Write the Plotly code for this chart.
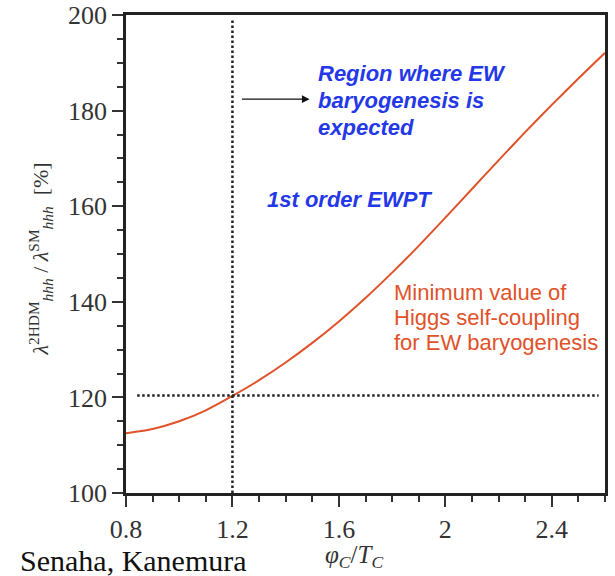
import plotly.graph_objects as go

# Critical-order-parameter ratio phi_C / T_C
phi_over_t = [0.8, 0.9, 1.0, 1.1, 1.2, 1.3, 1.4, 1.5, 1.6, 1.7, 1.8, 1.9,
              2.0, 2.1, 2.2, 2.3, 2.4, 2.5, 2.6]
# Minimum hhh coupling in the 2HDM relative to the SM [%]
lambda_ratio = [112.5, 113.4, 115.0, 117.3, 120.3, 123.6, 127.3, 131.4, 135.9,
                140.8, 146.1, 151.7, 157.6, 163.6, 169.6, 175.5, 181.2, 186.7, 192.1]

# Thresholds for a strongly first-order phase transition
phi_threshold = 1.2
lambda_threshold = 120.4

x_ticks = [0.8, 1.2, 1.6, 2.0, 2.4]
x_tick_text = ["0.8", "1.2", "1.6", "2", "2.4"]
y_ticks = [100, 120, 140, 160, 180, 200]

blue_lines = ["Region where EW", "baryogenesis is", "expected"]
orange_lines = ["Minimum value of", "Higgs self-coupling", "for EW baryogenesis"]

SERIF = "Liberation Serif"
SANS = "Liberation Sans"
BLUE = "#2438e8"
ORANGE = "#e0522a"
DOT = "#222222"

fig = go.Figure()

fig.add_trace(go.Scatter(
    x=phi_over_t, y=lambda_ratio, mode="lines",
    line=dict(color=ORANGE, width=2, shape="spline", smoothing=0.6),
    hoverinfo="skip", showlegend=False,
))

# dotted guide lines at the thresholds
fig.add_trace(go.Scatter(
    x=[phi_threshold, phi_threshold], y=[100, 199.2], mode="lines",
    line=dict(color=DOT, width=2.5, dash="2.5px,2.5px"),
    hoverinfo="skip", showlegend=False,
))
fig.add_trace(go.Scatter(
    x=[0.842, 2.576], y=[lambda_threshold, lambda_threshold], mode="lines",
    line=dict(color=DOT, width=2.5, dash="2.5px,2.5px"),
    hoverinfo="skip", showlegend=False,
))

annotations = []

# arrow pointing into the allowed region
annotations.append(dict(
    x=1.49, y=182.4, ax=1.23, ay=182.4, xref="x", yref="y", axref="x", ayref="y",
    showarrow=True, arrowhead=2, arrowsize=1.1, arrowwidth=1.4, arrowcolor="#111111",
    text="",
))

for text, yv in zip(blue_lines, [187.7, 182.1, 176.5]):
    annotations.append(dict(
        x=1.515, y=yv, xref="x", yref="y", xanchor="left", yanchor="middle",
        text="<b><i>%s</i></b>" % text, showarrow=False,
        font=dict(family=SANS, size=22, color=BLUE),
    ))

annotations.append(dict(
    x=1.322, y=161.5, xref="x", yref="y", xanchor="left", yanchor="middle",
    text="<b><i>1st order EWPT</i></b>", showarrow=False,
    font=dict(family=SANS, size=22, color=BLUE),
))

for text, yv in zip(orange_lines, [141.9, 136.7, 131.4]):
    annotations.append(dict(
        x=1.80, y=yv, xref="x", yref="y", xanchor="left", yanchor="middle",
        text=text, showarrow=False,
        font=dict(family=SANS, size=22, color=ORANGE),
    ))

# axis titles
annotations.append(dict(
    x=-0.178, y=0.49, xref="paper", yref="paper", xanchor="center", yanchor="middle",
    textangle=-90, showarrow=False,
    text="<i>λ</i><sup>2HDM</sup><sub><i>hhh</i></sub> / <i>λ</i><sup>SM</sup><sub><i>hhh</i></sub>  [%]",
    font=dict(family=SERIF, size=22, color="#333333"),
))
annotations.append(dict(
    x=0.475, y=-0.132, xref="paper", yref="paper", xanchor="center", yanchor="middle",
    showarrow=False,
    text="<i>φ</i><sub><i>C</i></sub>/<i>T</i><sub><i>C</i></sub>",
    font=dict(family=SERIF, size=25, color="#333333"),
))
annotations.append(dict(
    x=-0.225, y=-0.102, xref="paper", yref="paper", xanchor="left", yanchor="top",
    showarrow=False, text="Senaha, Kanemura",
    font=dict(family=SERIF, size=30, color="#111111"),
))

axis_common = dict(
    showgrid=False, zeroline=False, showline=True, linecolor="#222222",
    linewidth=2.5, mirror=True, ticks="outside", ticklen=11, tickwidth=1.5,
    tickcolor="#333333", tickfont=dict(family=SERIF, size=26, color="#333333"),
    automargin=False,
)

fig.update_layout(
    width=615, height=576,
    margin=dict(l=126, r=10, t=15, b=83),
    paper_bgcolor="white", plot_bgcolor="white",
    xaxis=dict(range=[0.8, 2.6], tickvals=x_ticks, ticktext=x_tick_text,
               minor=dict(dtick=0.1, tick0=0.8, ticks="outside", ticklen=6,
                          tickwidth=1.5, tickcolor="#333333"),
               **axis_common),
    yaxis=dict(range=[100, 200], tickvals=y_ticks,
               minor=dict(dtick=5, tick0=100, ticks="outside", ticklen=6,
                          tickwidth=1.5, tickcolor="#333333"),
               **axis_common),
    annotations=annotations,
    showlegend=False,
)

fig.write_html("out.html")
